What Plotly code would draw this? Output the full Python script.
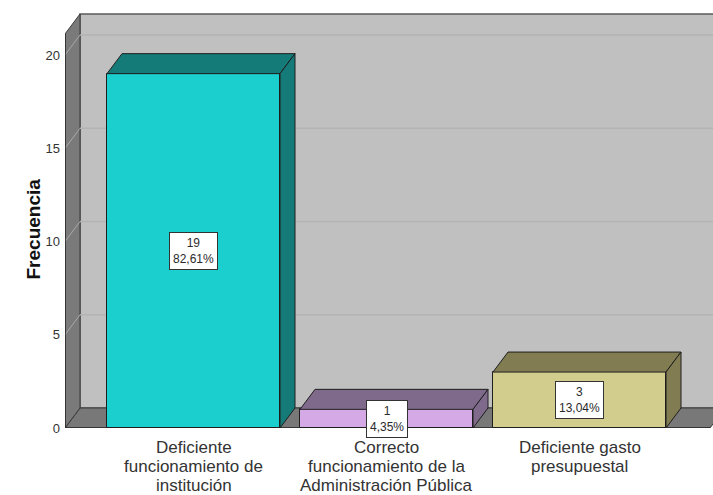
import plotly.graph_objects as go

# Frequencies per category
categories = [
    ["Deficiente", "funcionamiento de", "institución"],
    ["Correcto", "funcionamiento de la", "Administración Pública"],
    ["Deficiente gasto", "presupuestal"],
]
counts = [19, 1, 3]
y_ticks = [0, 5, 10, 15, 20]

front_colors = ["#1ccfcf", "#d4a9e6", "#d3cd8d"]
shade_colors = ["#147b79", "#7f6a8b", "#817c52"]

total = sum(counts)
pct_text = [f"{100 * c / total:.2f}".replace(".", ",") + "%" for c in counts]

# ---- geometry of the pseudo-3D box (pixel based layout) ----
W, H = 713, 495
ML, MR, MT, MB = 65, 0, 12, 67
plot_w = W - ML - MR
plot_h = H - MT - MB
px_per_unit = 18.65          # vertical scale of the front plane
cat_step = 193.0             # horizontal pixels between categories
cat0_px = 193.5              # centre of the first category
bar_w = 173.0 / cat_step

x_lo = (ML - cat0_px) / cat_step
x_hi = (W - MR - cat0_px) / cat_step
y_top = plot_h / px_per_unit

DX = 15.0 / cat_step          # depth offset, x
DY = 20.0 / px_per_unit       # depth offset, y
front_top = (428 - 34) / px_per_unit
front_right = (710 - cat0_px) / cat_step


def poly(pts):
    return "M " + " L ".join(f"{x},{y}" for x, y in pts) + " Z"


shapes = []
# back wall
shapes.append(dict(type="rect", xref="x", yref="y", layer="below",
                   x0=x_lo + DX, x1=front_right + DX + 1, y0=DY, y1=front_top + DY,
                   fillcolor="#c0c0c0", line=dict(color="#5a5a5a", width=1.5)))
# floor
shapes.append(dict(type="path", xref="x", yref="y", layer="below",
                   path=poly([(x_lo, 0), (front_right, 0), (front_right + DX, DY), (x_lo + DX, DY)]),
                   fillcolor="#787878", line=dict(color="#3a3a3a", width=1)))
# left side wall
shapes.append(dict(type="path", xref="x", yref="y", layer="below",
                   path=poly([(x_lo, 0), (x_lo, front_top), (x_lo + DX, front_top + DY), (x_lo + DX, DY)]),
                   fillcolor="#7a7a7a", line=dict(color="#3a3a3a", width=1)))
# grid lines: back wall and side wall diagonals
for v in y_ticks[1:]:
    shapes.append(dict(type="line", xref="x", yref="y", layer="below",
                       x0=x_lo + DX, x1=front_right + DX + 1, y0=v + DY, y1=v + DY,
                       line=dict(color="#b3b3b3", width=1.5)))
    shapes.append(dict(type="line", xref="x", yref="y", layer="below",
                       x0=x_lo, x1=x_lo + DX, y0=v, y1=v + DY,
                       line=dict(color="#a9a9a9", width=1)))
# front axis lines
shapes.append(dict(type="line", xref="x", yref="y", layer="below",
                   x0=x_lo, x1=front_right, y0=0, y1=0, line=dict(color="#2a2a2a", width=1.5)))
shapes.append(dict(type="line", xref="x", yref="y", layer="below",
                   x0=x_lo, x1=x_lo, y0=0, y1=front_top, line=dict(color="#2a2a2a", width=1.5)))

# bar tops and right sides
for i, v in enumerate(counts):
    xl, xr = i - bar_w / 2, i + bar_w / 2
    shapes.append(dict(type="path", xref="x", yref="y", layer="above",
                       path=poly([(xl, v), (xr, v), (xr + DX, v + DY), (xl + DX, v + DY)]),
                       fillcolor=shade_colors[i], line=dict(color="#1e1e1e", width=1)))
    shapes.append(dict(type="path", xref="x", yref="y", layer="above",
                       path=poly([(xr, 0), (xr, v), (xr + DX, v + DY), (xr + DX, DY)]),
                       fillcolor=shade_colors[i], line=dict(color="#1e1e1e", width=1)))

fig = go.Figure()
fig.add_trace(go.Bar(
    x=list(range(len(counts))), y=counts, width=bar_w,
    marker=dict(color=front_colors, line=dict(color="#1e1e1e", width=1)),
    hoverinfo="skip", showlegend=False,
))

font_family = "Arial, Liberation Sans, sans-serif"
annotations = []
# value labels in the middle of each front face
for i, v in enumerate(counts):
    annotations.append(dict(
        x=i, y=v / 2, xref="x", yref="y", text=f"{v}<br>{pct_text[i]}",
        showarrow=False, bgcolor="white", bordercolor="#333333", borderwidth=1,
        borderpad=3, font=dict(family=font_family, size=12, color="#2a2a2a"),
    ))
# category labels under the bars
line_px = [447, 466, 485]
for i, lines in enumerate(categories):
    for j, txt in enumerate(lines):
        annotations.append(dict(
            x=i, y=0, xref="x", yref="paper", yanchor="middle",
            yshift=-(line_px[j] - 428), text=txt, showarrow=False,
            font=dict(family=font_family, size=17, color="#333333"),
        ))
# axis title
annotations.append(dict(
    x=(20 - ML) / plot_w, y=(428 - 229) / plot_h, xref="paper", yref="paper",
    text="<b>Frecuencia</b>", textangle=-90, showarrow=False,
    font=dict(family=font_family, size=19, color="#111111"),
))

fig.update_layout(
    width=W, height=H,
    margin=dict(l=ML, r=MR, t=MT, b=MB),
    paper_bgcolor="white", plot_bgcolor="white",
    shapes=shapes, annotations=annotations,
    xaxis=dict(range=[x_lo, x_hi], showticklabels=False, showgrid=False,
               zeroline=False, showline=False, ticks=""),
    yaxis=dict(range=[0, y_top], tickvals=y_ticks, showgrid=False, zeroline=False,
               showline=False, ticks="", ticklabelstandoff=4,
               tickfont=dict(family=font_family, size=13, color="#333333")),
    bargap=0,
)

fig.write_html("out.html")
